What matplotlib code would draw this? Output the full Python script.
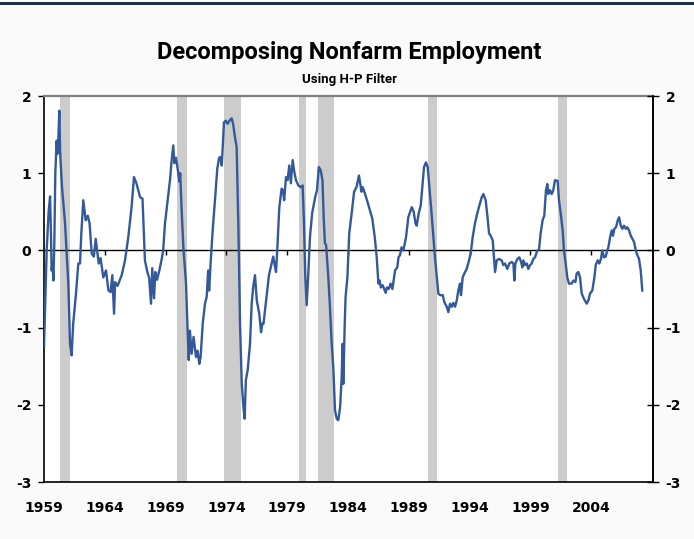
import matplotlib
matplotlib.use("Agg")
import matplotlib.pyplot as plt
from matplotlib.patches import Rectangle

# cyclical part of nonfarm payrolls (H-P filter)
years = [
    1959.00, 1959.10, 1959.22, 1959.38, 1959.50, 1959.56, 1959.63, 1959.70, 1959.77, 1959.85,
    1959.93, 1960.04, 1960.10, 1960.18, 1960.26, 1960.33, 1960.48, 1960.73, 1961.00, 1961.14,
    1961.22, 1961.27, 1961.40, 1961.63, 1961.82, 1961.96, 1962.07, 1962.23, 1962.43, 1962.60,
    1962.75, 1962.92, 1963.10, 1963.25, 1963.50, 1963.65, 1963.88, 1964.10, 1964.30, 1964.48,
    1964.62, 1964.76, 1964.85, 1965.05, 1965.39, 1965.66, 1965.93, 1966.20, 1966.40, 1966.60,
    1966.90, 1967.10, 1967.20, 1967.30, 1967.50, 1967.65, 1967.80, 1967.90, 1968.05, 1968.15,
    1968.30, 1968.50, 1968.68, 1968.80, 1968.95, 1969.14, 1969.36, 1969.50, 1969.63, 1969.72,
    1969.85, 1969.99, 1970.13, 1970.20, 1970.32, 1970.46, 1970.68, 1970.79, 1970.90, 1971.00,
    1971.14, 1971.30, 1971.50, 1971.63, 1971.77, 1971.88, 1972.05, 1972.24, 1972.38, 1972.50,
    1972.58, 1972.70, 1972.87, 1973.06, 1973.25, 1973.40, 1973.50, 1973.62, 1973.80, 1973.95,
    1974.10, 1974.25, 1974.43, 1974.55, 1974.70, 1974.84, 1974.98, 1975.12, 1975.26, 1975.40,
    1975.50, 1975.60, 1975.75, 1975.94, 1976.08, 1976.20, 1976.35, 1976.50, 1976.70, 1976.85,
    1976.95, 1977.05, 1977.30, 1977.50, 1977.72, 1977.85, 1977.98, 1978.08, 1978.18, 1978.35,
    1978.54, 1978.65, 1978.75, 1978.90, 1979.03, 1979.17, 1979.30, 1979.45, 1979.58, 1979.72,
    1979.92, 1980.11, 1980.27, 1980.38, 1980.49, 1980.60, 1980.72, 1980.87, 1981.05, 1981.30,
    1981.45, 1981.60, 1981.75, 1981.90, 1982.00, 1982.10, 1982.20, 1982.38, 1982.50, 1982.66,
    1982.80, 1982.93, 1983.07, 1983.20, 1983.35, 1983.48, 1983.55, 1983.61, 1983.73, 1983.80,
    1983.95, 1984.10, 1984.30, 1984.50, 1984.70, 1984.90, 1985.00, 1985.10, 1985.20, 1985.30,
    1985.60, 1985.80, 1986.00, 1986.20, 1986.36, 1986.50, 1986.60, 1986.70, 1986.85, 1987.10,
    1987.20, 1987.35, 1987.50, 1987.65, 1987.87, 1988.05, 1988.15, 1988.28, 1988.40, 1988.55,
    1988.77, 1988.96, 1989.24, 1989.40, 1989.55, 1989.65, 1989.80, 1989.98, 1990.09, 1990.25,
    1990.41, 1990.55, 1990.69, 1990.85, 1991.00, 1991.15, 1991.30, 1991.43, 1991.57, 1991.79,
    1991.92, 1992.12, 1992.25, 1992.39, 1992.53, 1992.66, 1992.80, 1992.94, 1993.07, 1993.21,
    1993.29, 1993.43, 1993.56, 1993.76, 1993.95, 1994.09, 1994.25, 1994.44, 1994.63, 1994.80,
    1995.00, 1995.13, 1995.32, 1995.46, 1995.60, 1995.73, 1995.90, 1996.00, 1996.09, 1996.23,
    1996.42, 1996.64, 1996.77, 1996.91, 1997.10, 1997.26, 1997.46, 1997.60, 1997.68, 1997.76,
    1997.93, 1998.09, 1998.23, 1998.34, 1998.42, 1998.56, 1998.70, 1998.83, 1998.97, 1999.10,
    1999.24, 1999.38, 1999.52, 1999.71, 1999.84, 2000.00, 2000.14, 2000.28, 2000.39, 2000.47,
    2000.61, 2000.75, 2000.88, 2001.02, 2001.24, 2001.35, 2001.49, 2001.65, 2001.76, 2001.90,
    2002.03, 2002.17, 2002.39, 2002.53, 2002.70, 2002.80, 2002.94, 2003.08, 2003.22, 2003.41,
    2003.63, 2003.76, 2003.90, 2004.09, 2004.26, 2004.37, 2004.53, 2004.67, 2004.80, 2004.91,
    2005.05, 2005.19, 2005.32, 2005.41, 2005.55, 2005.69, 2005.79, 2005.90, 2006.04, 2006.18,
    2006.29, 2006.43, 2006.56, 2006.70, 2006.84, 2006.97, 2007.11, 2007.25, 2007.38, 2007.52,
    2007.66, 2007.79, 2007.93, 2008.07, 2008.20,
]
cycle = [
    -1.25, -0.70, 0.00, 0.50, 0.70, 0.30, -0.26, -0.15, -0.39, 0.10,
    1.00, 1.42, 1.25, 1.45, 1.81, 1.26, 0.82, 0.35, -0.43, -1.21,
    -1.30, -1.36, -0.95, -0.56, -0.17, -0.17, 0.22, 0.65, 0.39, 0.45,
    0.35, -0.04, -0.08, 0.15, -0.17, -0.10, -0.35, -0.26, -0.52, -0.54,
    -0.32, -0.82, -0.41, -0.46, -0.32, -0.13, 0.17, 0.56, 0.95, 0.87,
    0.69, 0.67, 0.26, -0.13, -0.28, -0.36, -0.69, -0.23, -0.62, -0.28,
    -0.38, -0.25, -0.11, 0.00, 0.35, 0.61, 0.91, 1.17, 1.36, 1.13,
    1.20, 1.06, 0.89, 1.00, 0.52, 0.04, -0.43, -0.95, -1.42, -1.04,
    -1.34, -1.12, -1.38, -1.30, -1.47, -1.38, -0.95, -0.69, -0.60, -0.26,
    -0.52, -0.17, 0.26, 0.65, 1.06, 1.20, 1.21, 1.10, 1.66, 1.68,
    1.64, 1.68, 1.71, 1.64, 1.47, 1.34, 0.35, -0.95, -1.72, -2.03,
    -2.18, -1.68, -1.55, -1.21, -0.69, -0.48, -0.32, -0.65, -0.82, -1.06,
    -0.95, -0.95, -0.60, -0.32, -0.17, -0.08, -0.20, -0.28, 0.00, 0.56,
    0.80, 0.78, 0.65, 0.95, 0.91, 1.10, 0.87, 1.17, 1.02, 0.91,
    0.84, 0.82, 0.84, 0.35, -0.35, -0.71, -0.35, 0.17, 0.48, 0.69,
    0.78, 1.08, 1.04, 0.91, 0.43, 0.09, 0.07, -0.35, -0.69, -1.21,
    -1.55, -2.07, -2.18, -2.20, -2.03, -1.64, -1.21, -1.73, -0.95, -0.60,
    -0.35, 0.22, 0.48, 0.76, 0.82, 0.97, 0.87, 0.76, 0.82, 0.78,
    0.63, 0.52, 0.41, 0.17, -0.09, -0.43, -0.39, -0.48, -0.45, -0.55,
    -0.48, -0.50, -0.43, -0.50, -0.26, -0.22, -0.09, -0.06, 0.04, 0.00,
    0.17, 0.43, 0.56, 0.50, 0.35, 0.32, 0.47, 0.58, 0.78, 1.08,
    1.14, 1.08, 0.82, 0.52, 0.22, -0.09, -0.35, -0.56, -0.58, -0.58,
    -0.67, -0.73, -0.80, -0.69, -0.73, -0.68, -0.73, -0.65, -0.52, -0.43,
    -0.58, -0.35, -0.30, -0.24, -0.13, -0.04, 0.17, 0.35, 0.48, 0.58,
    0.69, 0.73, 0.65, 0.45, 0.22, 0.19, 0.13, -0.09, -0.28, -0.13,
    -0.11, -0.13, -0.19, -0.17, -0.24, -0.17, -0.15, -0.17, -0.39, -0.17,
    -0.11, -0.09, -0.15, -0.22, -0.13, -0.19, -0.17, -0.24, -0.19, -0.17,
    -0.11, -0.09, -0.02, 0.02, 0.22, 0.39, 0.45, 0.78, 0.86, 0.73,
    0.78, 0.73, 0.78, 0.91, 0.90, 0.65, 0.48, 0.26, 0.00, -0.17,
    -0.35, -0.43, -0.43, -0.39, -0.41, -0.30, -0.28, -0.35, -0.56, -0.63,
    -0.69, -0.65, -0.56, -0.52, -0.35, -0.19, -0.13, -0.17, -0.11, 0.00,
    -0.09, -0.08, 0.00, 0.04, 0.17, 0.26, 0.19, 0.28, 0.30, 0.39,
    0.43, 0.32, 0.28, 0.32, 0.28, 0.30, 0.26, 0.19, 0.15, 0.11,
    0.00, -0.06, -0.11, -0.26, -0.52,
]

# shaded recessions
rec_start = [1960.30, 1969.90, 1973.80, 1979.97, 1981.50, 1990.60, 2001.30]
rec_end = [1961.15, 1970.80, 1975.20, 1980.55, 1982.85, 1991.30, 2002.00]

year_ticks = [1959, 1964, 1969, 1974, 1979, 1984, 1989, 1994, 1999, 2004]
zero_ticks = [1964, 1969, 1974, 1979, 1984, 1989, 1994, 1999, 2004]
value_ticks = [-3, -2, -1, 0, 1, 2]

plt.rcParams['axes.unicode_minus'] = False
head_font = ['Roboto', 'DejaVu Sans']
tick_font = ['DejaVu Sans']

W, H = 694, 539
fig = plt.figure(figsize=(W / 100, H / 100), dpi=100, facecolor='#fafafa')

# dark rule along the top edge
fig.add_artist(Rectangle((0, 1 - 5.3 / H), 1, 3.6 / H, transform=fig.transFigure,
                         color='#1d3149', lw=0))

ax = fig.add_axes([44 / W, 57 / H, 609 / W, 386 / H])
ax.set_facecolor('white')

for s, e in zip(rec_start, rec_end):
    ax.axvspan(s, e, color='#cccccc', lw=0, zorder=0)
ax.axhline(0, color='black', lw=1.0, zorder=1)
ax.plot(years, cycle, color='#34599a', lw=1.7, zorder=3)

ax.set_xlim(1959, 2009.08)
ax.set_ylim(-3, 2)
ax.set_xticks(year_ticks)
ax.set_xticklabels([str(y) for y in year_ticks], fontsize=10, fontweight='bold', family=tick_font)
ax.tick_params(axis='x', length=0, pad=14)
ax.set_yticks(value_ticks)
ax.set_yticklabels([str(v) for v in value_ticks], fontsize=10, fontweight='bold', family=tick_font)
ax.tick_params(axis='y', direction='out', length=4, width=1, pad=5, colors='black')

for side in ['left', 'bottom', 'right']:
    ax.spines[side].set_color('black')
    ax.spines[side].set_linewidth(1.2)
ax.spines['top'].set_color('#7f7f7f')
ax.spines['top'].set_linewidth(1.6)

ax2 = ax.twinx()
ax2.set_ylim(-3, 2)
ax2.set_yticks(value_ticks)
ax2.set_yticklabels([str(v) for v in value_ticks], fontsize=10, fontweight='bold', family=tick_font)
ax2.tick_params(axis='y', direction='inout', length=8, width=1, pad=5)
for side in ['left', 'bottom', 'top']:
    ax2.spines[side].set_visible(False)
ax2.spines['right'].set_linewidth(1.2)

# small tick marks hanging from the zero line
zax = ax.secondary_xaxis(0.6)
zax.set_xticks(zero_ticks)
zax.set_xticklabels([])
zax.xaxis.set_ticks_position('bottom')
zax.tick_params(direction='out', length=3.5, width=1, labelbottom=False, labeltop=False)
for side in zax.spines:
    zax.spines[side].set_visible(False)

fig.text(349 / W, 1 - 52 / H, 'Decomposing Nonfarm Employment', ha='center', va='center',
         fontsize=17, fontweight='bold', family=head_font)
fig.text(349 / W, 1 - 80 / H, 'Using H-P Filter', ha='center', va='center',
         fontsize=9.5, fontweight='bold', family=head_font)

fig.savefig('out.png', dpi=100, facecolor=fig.get_facecolor())
